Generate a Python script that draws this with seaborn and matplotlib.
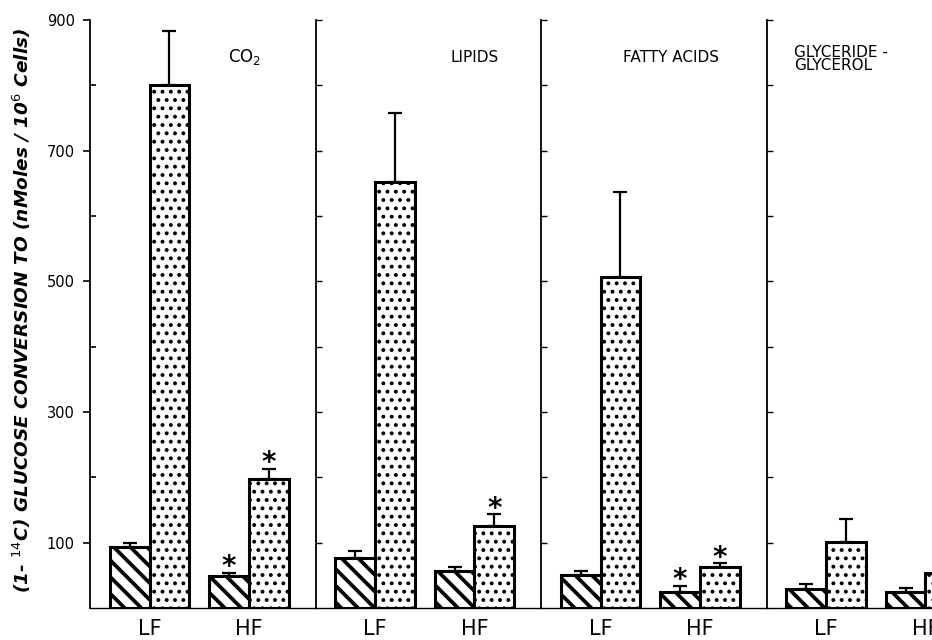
import matplotlib
matplotlib.use("Agg")
import matplotlib.pyplot as plt
import seaborn as sns
import pandas as pd
import numpy as np

# ---- data ----
panels = ["CO2", "LIPIDS", "FATTY ACIDS", "GLYCERIDE-GLYCEROL"]
panel_titles = ["CO$_2$", "LIPIDS", "FATTY ACIDS", "GLYCERIDE -\nGLYCEROL"]
diets = ["LF", "HF"]
treatments = ["hatched", "dotted"]

lf_hatched = [93, 76, 50, 29]
lf_hatched_err = [7, 11, 6, 8]
lf_dotted = [800, 652, 506, 101]
lf_dotted_err = [83, 106, 130, 35]
hf_hatched = [49, 56, 24, 24]
hf_hatched_err = [5, 7, 10, 6]
hf_dotted = [197, 126, 63, 53]
hf_dotted_err = [16, 18, 6, 5]
hf_hatched_star = [True, False, True, False]
hf_dotted_star = [True, True, True, False]

yticks_major = [100, 300, 500, 700, 900]
yticks_minor = [200, 400, 600, 800]
ylabel = r"(1- $^{14}$C) GLUCOSE CONVERSION TO (nMoles / 10$^{6}$ Cells)"

rows = []
for i, p in enumerate(panels):
    rows.append(dict(panel=p, diet="LF", trt="hatched", value=lf_hatched[i], err=lf_hatched_err[i], star=False))
    rows.append(dict(panel=p, diet="LF", trt="dotted", value=lf_dotted[i], err=lf_dotted_err[i], star=False))
    rows.append(dict(panel=p, diet="HF", trt="hatched", value=hf_hatched[i], err=hf_hatched_err[i], star=hf_hatched_star[i]))
    rows.append(dict(panel=p, diet="HF", trt="dotted", value=hf_dotted[i], err=hf_dotted_err[i], star=hf_dotted_star[i]))
df = pd.DataFrame(rows)

sns.set_theme(style="white")
plt.rcParams["font.family"] = ["DejaVu Sans"]
plt.rcParams["hatch.linewidth"] = 2.6
plt.rcParams["hatch.color"] = "black"
plt.rcParams["text.color"] = "black"
plt.rcParams["xtick.color"] = "black"
plt.rcParams["ytick.color"] = "black"

W, H = 932, 640
fig = plt.figure(figsize=(W / 100, H / 100), dpi=100)

left0 = 90
pw = 225.5
bottom_px = 608
top_px = 20

hatch_map = {"hatched": "\\\\", "dotted": ".."}
hatch_lw = {"hatched": 2.7, "dotted": 1.6}

for i, p in enumerate(panels):
    lpx = left0 + i * pw
    ax = fig.add_axes([lpx / W, (H - bottom_px) / H, pw / W, (bottom_px - top_px) / H])
    sub = df[df.panel == p]
    sns.barplot(data=sub, x="diet", y="value", hue="trt", order=diets, hue_order=treatments,
                palette=["white", "white"], edgecolor="black", linewidth=2.2,
                errorbar=None, width=0.8, dodge=True, legend=False, ax=ax, zorder=3)
    for cont, trt in zip(ax.containers, treatments):
        for bar in cont:
            bar.set_hatch(hatch_map[trt])
            bar.set_facecolor("white")
            bar.set_edgecolor("black")
            try:
                bar.set_hatch_linewidth(hatch_lw[trt])
            except Exception:
                pass
        for bar, d in zip(cont, diets):
            r = sub[(sub.diet == d) & (sub.trt == trt)].iloc[0]
            xc = bar.get_x() + bar.get_width() / 2
            ax.errorbar([xc], [r.value], yerr=[[0], [r.err]], fmt="none", ecolor="black",
                        elinewidth=1.6, capsize=5, capthick=1.6, zorder=2)
            if r.star:
                ax.text(xc, r.value + r.err - 4, "*", ha="center", va="baseline",
                        fontsize=20, fontweight="bold", color="black")

    ax.set_xlim(-0.6, 1.67)
    ax.set_ylim(0, 900)
    ax.set_xlabel("")
    ax.set_ylabel("")
    for s in ["top", "right"]:
        ax.spines[s].set_visible(False)
    ax.spines["left"].set_linewidth(1.3)
    ax.spines["left"].set_color("black")
    ax.spines["bottom"].set_linewidth(1.0)
    ax.spines["bottom"].set_color("black")
    ax.tick_params(axis="x", length=0, labelsize=15, pad=8, colors="black")
    ax.set_xticks([0, 1])
    ax.set_xticklabels(diets)
    if i == 0:
        ax.set_yticks(yticks_major)
        ax.set_yticks(yticks_minor, minor=True)
        ax.tick_params(axis="y", which="major", direction="out", length=5, width=1.2,
                       labelsize=10.5, colors="black", left=True, pad=6)
        ax.tick_params(axis="y", which="minor", direction="in", length=4, width=1.2, left=True)
    else:
        ax.set_yticks(sorted(yticks_major + yticks_minor))
        ax.set_yticklabels([])
        ax.tick_params(axis="y", which="major", direction="in", length=4, width=1.0, left=True)
    ax.patch.set_alpha(0)

    # panel titles
    if i == 0:
        ax.text(0.96, 843, panel_titles[i], ha="center", va="center", fontsize=12)
    elif i == 1:
        ax.text(1.0, 843, panel_titles[i], ha="center", va="center", fontsize=11)
    elif i == 2:
        ax.text(0.71, 843, panel_titles[i], ha="center", va="center", fontsize=11)
    else:
        ax.text(-0.32, 840, panel_titles[i], ha="left", va="center", fontsize=11, linespacing=0.85)

fig.text(22 / W, 0.515, ylabel, rotation=90, ha="center", va="center", fontsize=13.3,
         fontstyle="italic", fontweight="bold", color="black")

fig.savefig("out.png", dpi=100)
